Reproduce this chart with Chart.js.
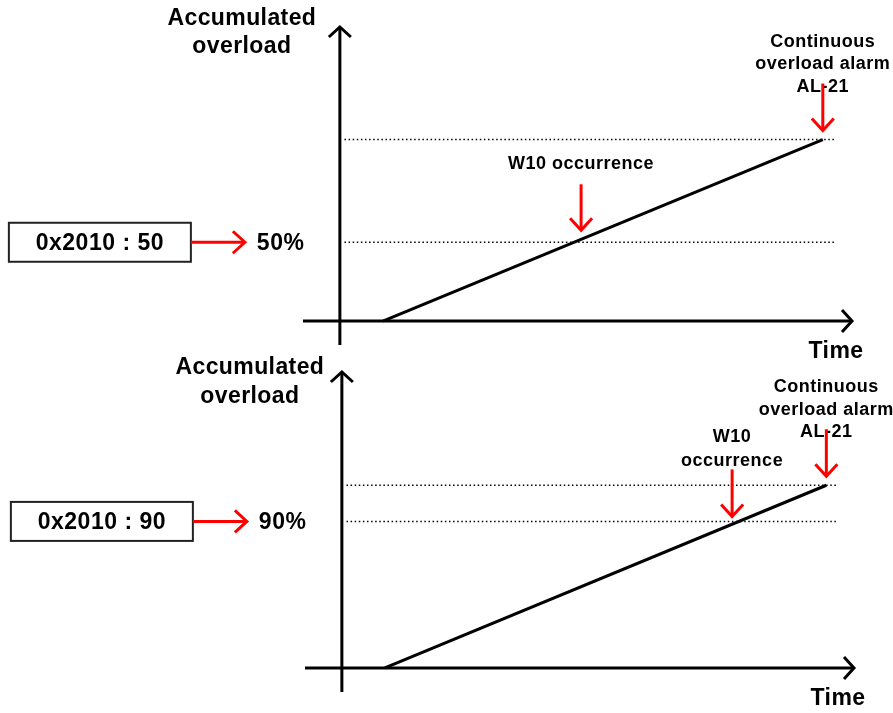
<!DOCTYPE html>
<html>
<head>
<meta charset="utf-8">
<script src="https://cdn.jsdelivr.net/npm/chart.js@4/dist/chart.umd.min.js"></script>
<style>
  body { margin: 0; background: #fff; }
  #wrap { position: relative; width: 893px; height: 713px; }
  canvas { position: absolute; left: 0; top: 0; }
</style>
</head>
<body>
<div id="wrap">
  <canvas id="top" width="893" height="713"></canvas>
  <canvas id="bottom" width="893" height="713"></canvas>
</div>
<script>
// time / accumulated overload ranges (arbitrary units, 100 = AL-21 level)
const X_RANGE = [-7.2, 100];
const Y_RANGE = [-13.2, 162];
const DOT_SPAN = [0.9, 96.7];

// panel 1 : 0x2010 = 50
const p1Line = [[8.4, 0], [94.3, 100]];   // [time, overload]
const p1Levels = [43.4, 100];              // W10 level, AL-21 level
const p1W10Time = 47.1;
const p1Param = '0x2010 : 50';
const p1Pct = '50%';

// panel 2 : 0x2010 = 90
const p2Line = [[8.4, 0], [94.6, 100]];
const p2Levels = [80.2, 100];
const p2W10Time = 76.2;
const p2Param = '0x2010 : 90';
const p2Pct = '90%';

const yTitle = ['Accumulated', 'overload'];
const xTitle = 'Time';
const alarmText = ['Continuous', 'overload alarm', 'AL-21'];

const BIG = 'bold 23px "Liberation Sans", Arial, sans-serif';
const SMALL = 'bold 18px "Liberation Sans", Arial, sans-serif';

const panels = [
  {
    id: 'top', line: p1Line, levels: p1Levels, w10: p1W10Time, param: p1Param, pct: p1Pct,
    pad: { left: 303, right: 41, top: 27, bottom: 368 },
    titleX: -98, titleY: [-8, 20],
    w10Lines: ['W10 occurrence'], w10TextY: [-78], w10Arrow: [-58, -12]
  },
  {
    id: 'bottom', line: p2Line, levels: p2Levels, w10: p2W10Time, param: p2Param, pct: p2Pct,
    pad: { left: 305, right: 39, top: 372, bottom: 21 },
    titleX: -92, titleY: [-4, 25],
    w10Lines: ['W10', 'occurrence'], w10TextY: [-84, -60], w10Arrow: [-52, -5]
  }
];

function head(ctx, x, y, dir, w, d) {
  ctx.beginPath();
  if (dir === 'up') { ctx.moveTo(x - w, y + d); ctx.lineTo(x, y); ctx.lineTo(x + w, y + d); }
  if (dir === 'down') { ctx.moveTo(x - w, y - d); ctx.lineTo(x, y); ctx.lineTo(x + w, y - d); }
  if (dir === 'right') { ctx.moveTo(x - d, y - w); ctx.lineTo(x, y); ctx.lineTo(x - d, y + w); }
  ctx.stroke();
}

function seg(ctx, x1, y1, x2, y2) {
  ctx.beginPath();
  ctx.moveTo(x1, y1);
  ctx.lineTo(x2, y2);
  ctx.stroke();
}

function makePlugin(p) {
  return {
    id: 'decor_' + p.id,
    afterDatasetsDraw(chart) {
      const ctx = chart.ctx;
      const xs = chart.scales.x, ys = chart.scales.y;
      const x0 = xs.getPixelForValue(0), y0 = ys.getPixelForValue(0);
      const xl = xs.getPixelForValue(X_RANGE[0]), xr = xs.getPixelForValue(X_RANGE[1]);
      const yb = ys.getPixelForValue(Y_RANGE[0]), yt = ys.getPixelForValue(Y_RANGE[1]);
      const yW = ys.getPixelForValue(p.levels[0]);
      const yA = ys.getPixelForValue(p.levels[1]);
      const xW = xs.getPixelForValue(p.w10);
      const xA = xs.getPixelForValue(p.line[1][0]);

      ctx.save();
      ctx.lineJoin = 'miter';
      ctx.strokeStyle = '#000';
      ctx.lineWidth = 3;
      // axes
      seg(ctx, x0, yb, x0, yt + 1);
      head(ctx, x0, yt, 'up', 11, 10);
      seg(ctx, xl, y0, xr - 1, y0);
      head(ctx, xr, y0, 'right', 11, 10);

      // texts
      ctx.fillStyle = '#000';
      ctx.textAlign = 'center';
      ctx.textBaseline = 'middle';
      ctx.font = BIG;
      ctx.letterSpacing = '0.4px';
      yTitle.forEach((t, i) => ctx.fillText(t, x0 + p.titleX, yt + p.titleY[i]));
      ctx.fillText(xTitle, xr - 16, y0 + 31);

      ctx.font = SMALL;
      ctx.letterSpacing = '0.5px';
      p.w10Lines.forEach((t, i) => ctx.fillText(t, xW, yW + p.w10TextY[i]));
      alarmText.forEach((t, i) => ctx.fillText(t, xA, yA - 98 + i * 22.5));

      // parameter box
      ctx.lineWidth = 2;
      ctx.strokeStyle = '#222';
      ctx.strokeRect(x0 - 331, yW - 19.5, 182, 39);
      ctx.font = BIG;
      ctx.letterSpacing = '0.5px';
      ctx.fillText(p.param, x0 - 240, yW + 1);
      ctx.textAlign = 'left';
      ctx.fillText(p.pct, x0 - 83, yW + 1);
      ctx.letterSpacing = '0px';

      // red arrows
      ctx.strokeStyle = '#ff0000';
      ctx.lineWidth = 3;
      seg(ctx, x0 - 149, yW, x0 - 96, yW);
      head(ctx, x0 - 95, yW, 'right', 11, 12);
      seg(ctx, xW, yW + p.w10Arrow[0], xW, yW + p.w10Arrow[1] - 1);
      head(ctx, xW, yW + p.w10Arrow[1], 'down', 11, 12);
      seg(ctx, xA, yA - 56, xA, yA - 10);
      head(ctx, xA, yA - 9, 'down', 11, 12);
      ctx.restore();
    }
  };
}

panels.forEach(function (p) {
  const levelSets = p.levels.map(function (lvl) {
    return {
      data: [{ x: DOT_SPAN[0], y: lvl }, { x: DOT_SPAN[1], y: lvl }],
      borderColor: '#000',
      borderWidth: 1.5,
      borderDash: [1.5, 2.6],
      order: 2
    };
  });
  new Chart(document.getElementById(p.id), {
    type: 'line',
    data: {
      datasets: [{
        data: p.line.map(pt => ({ x: pt[0], y: pt[1] })),
        borderColor: '#000',
        borderWidth: 3,
        order: 1
      }].concat(levelSets)
    },
    options: {
      responsive: false,
      animation: false,
      layout: { padding: p.pad },
      elements: { point: { radius: 0 }, line: { tension: 0, borderCapStyle: 'butt' } },
      plugins: { legend: { display: false }, tooltip: { enabled: false } },
      scales: {
        x: { type: 'linear', display: false, min: X_RANGE[0], max: X_RANGE[1] },
        y: { type: 'linear', display: false, min: Y_RANGE[0], max: Y_RANGE[1] }
      }
    },
    plugins: [makePlugin(p)]
  });
});
</script>
</body>
</html>
